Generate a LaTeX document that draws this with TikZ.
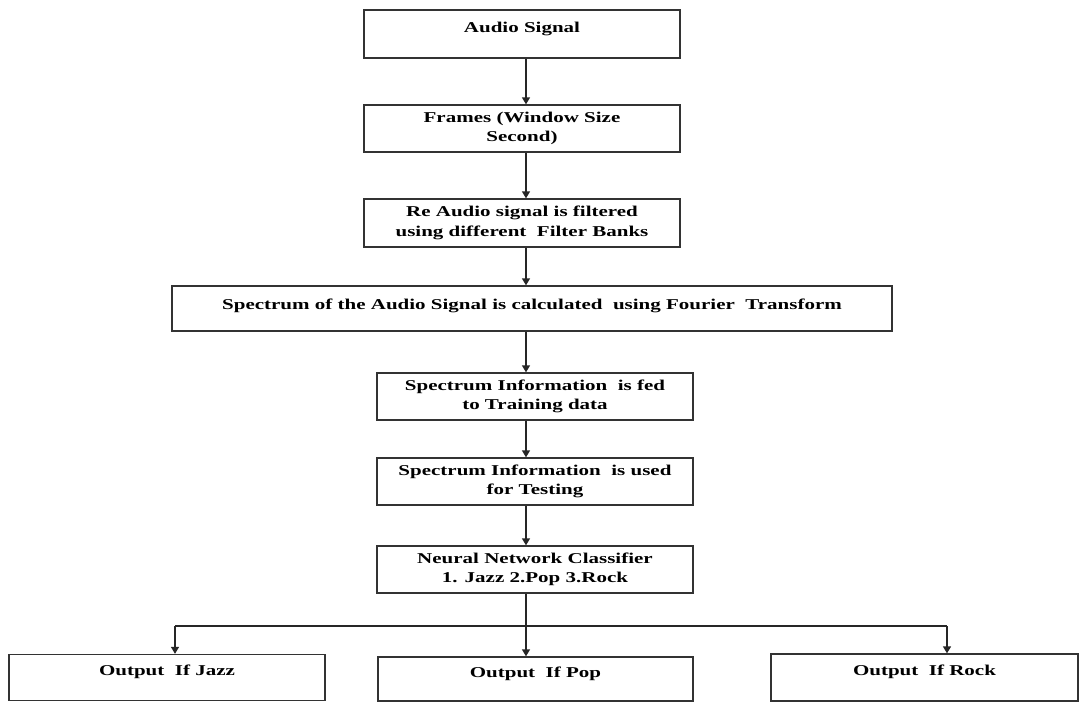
\documentclass[tikz,border=0pt]{standalone}
\usepackage{fontspec}
\setmainfont{Liberation Serif}[FakeStretch=1.4]
\usetikzlibrary{arrows.meta}
\begin{document}
\begin{tikzpicture}[x=1pt,y=-1pt,
  box/.style={draw=black!80, line width=1.3pt, fill=white, align=center,
    font=\bfseries\fontsize{15}{19.5}\selectfont, inner sep=0pt},
  topline/.style={text height=10pt, text depth=14pt},
  arr/.style={-{Triangle[width=8pt,length=7pt]}, line width=1.3pt, draw=black!85},
  wire/.style={line width=1.3pt, draw=black!85}]
\useasboundingbox (0,0) rectangle (1080,702);
\fill[white] (0,0) rectangle (1080,702);

\node[box, topline, minimum width=316, minimum height=48] (b1) at (522,34) {Audio Signal};
\node[box, minimum width=316, minimum height=47] (b2) at (522,128.5) {Frames (Window Size\\Second)};
\node[box, minimum width=316, minimum height=48] (b3) at (522,223) {Re Audio signal is filtered\\using different\ \ Filter Banks};
\node[box, text height=10pt, text depth=8pt, minimum width=720, minimum height=45] (b4) at (532,308.5) {Spectrum of the Audio Signal is calculated\ \ using Fourier\ \ Transform};
\node[box, minimum width=316, minimum height=47] (b5) at (535,396.5) {Spectrum Information\ \ is fed\\to Training data};
\node[box, minimum width=316, minimum height=47] (b6) at (535,481.5) {Spectrum Information\ \ is used\\for Testing};
\node[box, minimum width=316, minimum height=47] (b7) at (535,569.5) {Neural Network Classifier\\1. Jazz 2.Pop 3.Rock};
\node[box, topline, minimum width=316, minimum height=46] (b8) at (167,677.5) {Output\ \ If Jazz};
\node[box, topline, minimum width=315, minimum height=44] (b9) at (535.5,679) {Output\ \ If Pop};
\node[box, topline, minimum width=307, minimum height=47] (b10) at (924.5,677.5) {Output\ \ If Rock};

\coordinate (ax) at (526,0);
\draw[arr] (ax |- b1.south) -- (ax |- b2.north);
\draw[arr] (ax |- b2.south) -- (ax |- b3.north);
\draw[arr] (ax |- b3.south) -- (ax |- b4.north);
\draw[arr] (ax |- b4.south) -- (ax |- b5.north);
\draw[arr] (ax |- b5.south) -- (ax |- b6.north);
\draw[arr] (ax |- b6.south) -- (ax |- b7.north);

\coordinate (split) at (526,626);
\coordinate (jz) at (175,626);
\coordinate (rk) at (947,626);
\draw[wire] (ax |- b7.south) -- (split);
\draw[wire] (jz) -- (rk);
\draw[arr] (jz) -- (jz |- b8.north);
\draw[arr] (split) -- (split |- b9.north);
\draw[arr] (rk) -- (rk |- b10.north);
\end{tikzpicture}
\end{document}
